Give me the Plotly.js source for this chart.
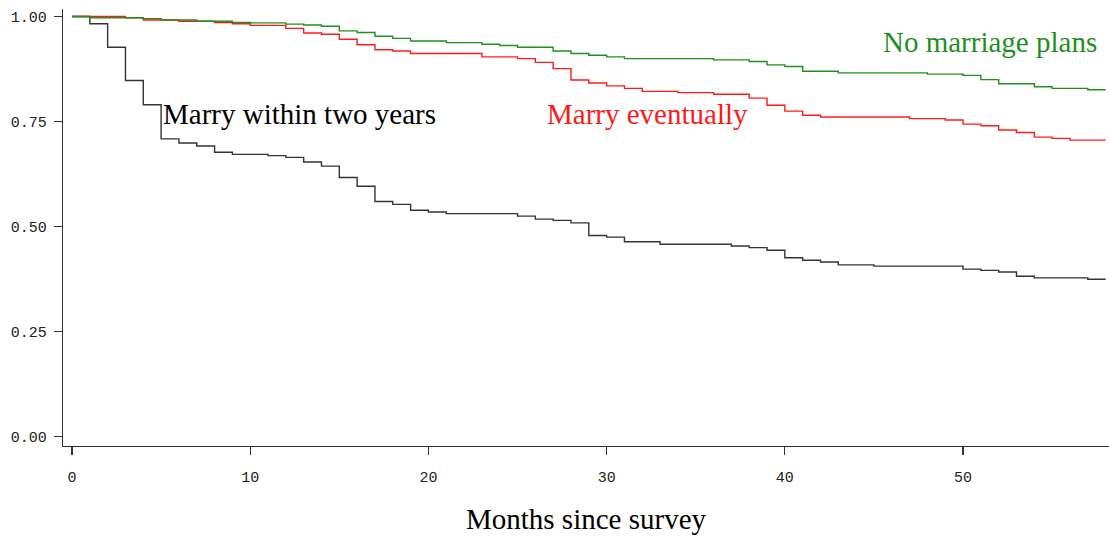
<!DOCTYPE html>
<html>
<head>
<meta charset="utf-8">
<script src="https://cdn.plot.ly/plotly-3.0.1.min.js"></script>
<style>html,body{margin:0;padding:0;background:#fff;}#chart{width:1109px;height:539px;}</style>
</head>
<body>
<div id="chart"></div>
<script>
const months = [0,1,2,3,4,5,6,7,8,9,10,11,12,13,14,15,16,17,18,19,20,21,22,23,24,25,26,27,28,29,30,31,32,33,34,35,36,37,38,39,40,41,42,43,44,45,46,47,48,49,50,51,52,53,54,55,56,57,58];

const marryWithinTwoYears = [1.0,0.983,0.927,0.848,0.790,0.709,0.699,0.692,0.677,0.672,0.672,0.669,0.665,0.654,0.644,0.617,0.596,0.560,0.553,0.539,0.535,0.531,0.531,0.531,0.531,0.525,0.518,0.515,0.509,0.479,0.475,0.464,0.464,0.458,0.458,0.458,0.458,0.454,0.450,0.444,0.426,0.420,0.416,0.409,0.409,0.406,0.406,0.406,0.406,0.406,0.399,0.396,0.392,0.382,0.378,0.378,0.378,0.375,0.375];

const marryEventually = [1.0,1.0,1.0,0.997,0.992,0.992,0.989,0.989,0.986,0.983,0.979,0.979,0.972,0.961,0.958,0.946,0.933,0.921,0.918,0.912,0.912,0.912,0.912,0.904,0.904,0.900,0.891,0.876,0.849,0.842,0.835,0.829,0.822,0.822,0.819,0.819,0.815,0.815,0.806,0.789,0.775,0.765,0.761,0.761,0.761,0.761,0.761,0.757,0.757,0.754,0.744,0.740,0.730,0.724,0.713,0.710,0.706,0.706,0.706];

const noMarriagePlans = [1.0,0.997,0.997,0.997,0.995,0.992,0.992,0.989,0.989,0.986,0.985,0.985,0.982,0.980,0.977,0.966,0.962,0.953,0.948,0.942,0.942,0.938,0.938,0.934,0.931,0.927,0.927,0.918,0.912,0.908,0.904,0.900,0.900,0.900,0.900,0.900,0.897,0.897,0.893,0.885,0.881,0.870,0.870,0.866,0.866,0.866,0.866,0.866,0.863,0.863,0.860,0.850,0.840,0.840,0.833,0.829,0.829,0.826,0.826];

const seriesNames = ["Marry within two years", "Marry eventually", "No marriage plans"];
const xTicks = [0,10,20,30,40,50];
const yTicks = [0,0.25,0.5,0.75,1.0];
const xTitle = "Months since survey";

const colors = ["#333333", "#ff1a1a", "#1f8f1f"];
const seriesData = [marryWithinTwoYears, marryEventually, noMarriagePlans];

const traces = seriesData.map((vals, i) => ({
  x: months, y: vals, type: 'scatter', mode: 'lines', name: seriesNames[i],
  line: {shape: 'hv', color: colors[i], width: 1.4},
  hoverinfo: 'skip'
}));

const serif = 'Liberation Serif, Times New Roman, serif';
const mono = 'Liberation Mono, DejaVu Sans Mono, monospace';

const labelPos = [
  {x: 0.0935, y: 0.760},
  {x: 0.461, y: 0.760},
  {x: 0.782, y: 0.924}
];

const annotations = seriesNames.map((n, i) => ({
  text: n, xref: 'paper', yref: 'paper', x: labelPos[i].x, y: labelPos[i].y,
  xanchor: 'left', yanchor: 'middle', showarrow: false,
  font: {family: serif, size: 29, color: i === 0 ? '#000000' : colors[i]}
}));

const layout = {
  width: 1109, height: 539,
  margin: {l: 63, r: 0, t: 9, b: 93},
  paper_bgcolor: '#ffffff', plot_bgcolor: '#ffffff',
  showlegend: false,
  xaxis: {
    range: [-0.505, 58.19], tickvals: xTicks, ticktext: xTicks.map(String),
    showgrid: false, zeroline: false, showline: true, linecolor: '#333333', linewidth: 1.3,
    ticks: 'outside', ticklen: 8, tickwidth: 1.3, tickcolor: '#333333',
    ticklabelstandoff: 9,
    tickfont: {family: mono, size: 15, color: '#222222'},
    title: {text: xTitle, font: {family: serif, size: 29, color: '#000000'}, standoff: 22}
  },
  yaxis: {
    range: [-0.022, 1.018], tickvals: yTicks, ticktext: yTicks.map(v => v.toFixed(2)),
    showgrid: false, zeroline: false, showline: true, linecolor: '#333333', linewidth: 1.3,
    ticks: 'outside', ticklen: 8, tickwidth: 1.3, tickcolor: '#333333',
    ticklabelstandoff: 4,
    tickfont: {family: mono, size: 15, color: '#222222'}
  },
  annotations: annotations
};

Plotly.newPlot('chart', traces, layout, {displayModeBar: false, staticPlot: true});
</script>
</body>
</html>
